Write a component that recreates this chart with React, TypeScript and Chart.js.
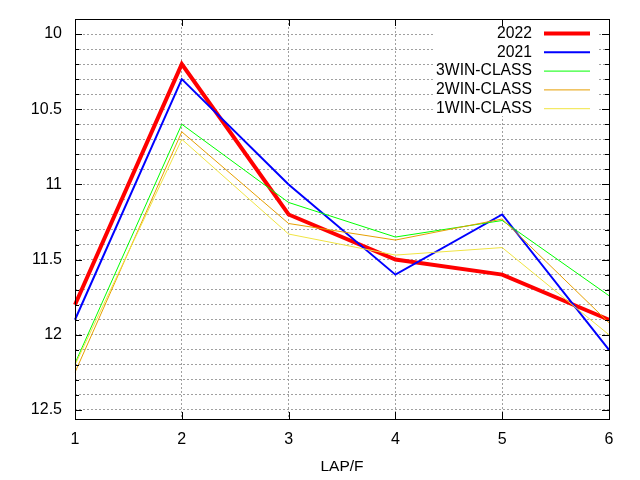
import { useEffect, useRef } from "react"
import { Chart, registerables, type ChartConfiguration, type Plugin } from "chart.js"

Chart.register(...registerables)

// lap times per furlong
const laps = ["1", "2", "3", "4", "5", "6"]
const lap2022 = [11.8, 10.2, 11.2, 11.5, 11.6, 11.9]
const lap2021 = [11.9, 10.3, 11.0, 11.6, 11.2, 12.1]
const win3 = [12.19, 10.6, 11.12, 11.35, 11.24, 11.74]
const win2 = [12.25, 10.65, 11.26, 11.37, 11.23, 11.92]
const win1 = [12.2, 10.7, 11.33, 11.47, 11.42, 12.0]

const seriesNames = ["2022", "2021", "3WIN-CLASS", "2WIN-CLASS", "1WIN-CLASS"]
const seriesColors = ["#ff0000", "#0000ff", "#00ff00", "#e69f00", "#f0e442"]
const seriesWidths = [4, 2, 1, 1, 1]

const yTickLabels = ["10", "10.5", "11", "11.5", "12", "12.5"]
// minor grid every 0.1 between 10 and 12.5
const yGridValues = Array.from({ length: 26 }, (_, i) => Math.round((10 + i * 0.1) * 10) / 10)

const FONT = "'Liberation Sans', Arial, sans-serif"

// gnuplot-like frame, mirrored ticks and key
const framePlugin: Plugin<"line"> = {
  id: "frame",
  beforeDatasetsDraw(chart) {
    const ctx = chart.ctx
    ctx.save()
    ctx.fillStyle = "#ffffff"
    ctx.fillRect(433, 23, 165, 93)
    ctx.restore()
  },
  afterDatasetsDraw(chart) {
    const { ctx, chartArea } = chart
    const { left, right, top, bottom } = chartArea
    const y = chart.scales.y
    const x = chart.scales.x
    ctx.save()
    ctx.strokeStyle = "#000000"
    ctx.lineWidth = 1
    ctx.beginPath()
    yGridValues.forEach((v) => {
      const py = Math.round(y.getPixelForValue(v)) + 0.5
      const major = yTickLabels.includes(String(v))
      const len = major ? 7 : 4
      ctx.moveTo(left, py)
      ctx.lineTo(left + len, py)
      ctx.moveTo(right, py)
      ctx.lineTo(right - len, py)
    })
    laps.forEach((_, i) => {
      const px = Math.round(x.getPixelForValue(i)) + 0.5
      ctx.moveTo(px, bottom)
      ctx.lineTo(px, bottom - 7)
      ctx.moveTo(px, top)
      ctx.lineTo(px, top + 7)
    })
    ctx.stroke()
    ctx.strokeRect(Math.round(left) + 0.5, Math.round(top) + 0.5, Math.round(right - left), Math.round(bottom - top))

    // key
    ctx.font = `15.7px ${FONT}`
    ctx.textAlign = "right"
    ctx.textBaseline = "middle"
    chart.data.datasets.forEach((ds, i) => {
      const ry = 33.5 + i * 18.8
      ctx.fillStyle = "#000000"
      ctx.fillText(String(ds.label), 532, ry)
      ctx.strokeStyle = String(ds.borderColor)
      ctx.lineWidth = Number(ds.borderWidth)
      ctx.beginPath()
      ctx.moveTo(544, ry)
      ctx.lineTo(590, ry)
      ctx.stroke()
    })
    ctx.restore()
  },
}

export default function App() {
  const chartRef = useRef<HTMLCanvasElement>(null)
  const chartInstance = useRef<Chart | null>(null)

  useEffect(() => {
    if (!chartRef.current) return

    if (chartInstance.current) {
      chartInstance.current.destroy()
    }

    const ctx = chartRef.current.getContext("2d")
    if (!ctx) return

    const values = [lap2022, lap2021, win3, win2, win1]

    const config: ChartConfiguration<"line"> = {
      type: "line",
      data: {
        labels: laps,
        datasets: values.map((data, i) => ({
          label: seriesNames[i],
          data: data,
          borderColor: seriesColors[i],
          backgroundColor: seriesColors[i],
          borderWidth: seriesWidths[i],
          pointRadius: 0,
          tension: 0,
          fill: false,
          order: values.length - i,
        })),
      },
      options: {
        responsive: false,
        animation: false,
        devicePixelRatio: 1,
        layout: {
          padding: { top: 19, right: 31, left: 0, bottom: 0 },
        },
        plugins: {
          legend: { display: false },
          tooltip: { enabled: false },
        },
        scales: {
          x: {
            type: "category",
            offset: false,
            afterFit: (scale) => {
              scale.height = 61
              scale.paddingLeft = 0
              scale.paddingRight = 0
            },
            // dotted grid lines take their dash from border.dash
            border: { display: false, dash: [2, 2] },
            grid: {
              color: "#a0a0a0",
              drawTicks: false,
            },
            ticks: {
              color: "#000000",
              padding: 11,
              font: { family: FONT, size: 16 },
              maxRotation: 0,
            },
            title: {
              display: true,
              text: "LAP/F",
              color: "#000000",
              font: { family: FONT, size: 15.5 },
              padding: { top: 0, bottom: 4 },
            },
          },
          y: {
            type: "linear",
            reverse: true,
            min: 9.9,
            max: 12.56,
            afterFit: (scale) => {
              scale.width = 75
              scale.paddingTop = 0
              scale.paddingBottom = 0
            },
            afterBuildTicks: (scale) => {
              scale.ticks = yGridValues.map((v) => ({ value: v }))
            },
            border: { display: false, dash: [2, 2] },
            grid: {
              color: "#a0a0a0",
              drawTicks: false,
            },
            ticks: {
              color: "#000000",
              padding: 13,
              font: { family: FONT, size: 16 },
              autoSkip: false,
              callback: (value) => {
                const s = String(Math.round(Number(value) * 10) / 10)
                return yTickLabels.includes(s) ? s : ""
              },
            },
          },
        },
      },
      plugins: [framePlugin],
    }

    chartInstance.current = new Chart(ctx, config)

    return () => {
      if (chartInstance.current) {
        chartInstance.current.destroy()
      }
    }
  }, [])

  return (
    <div style={{ position: "fixed", left: 0, top: 0, width: 640, height: 480, background: "#ffffff" }}>
      <canvas ref={chartRef} width={640} height={480}></canvas>
    </div>
  )
}
